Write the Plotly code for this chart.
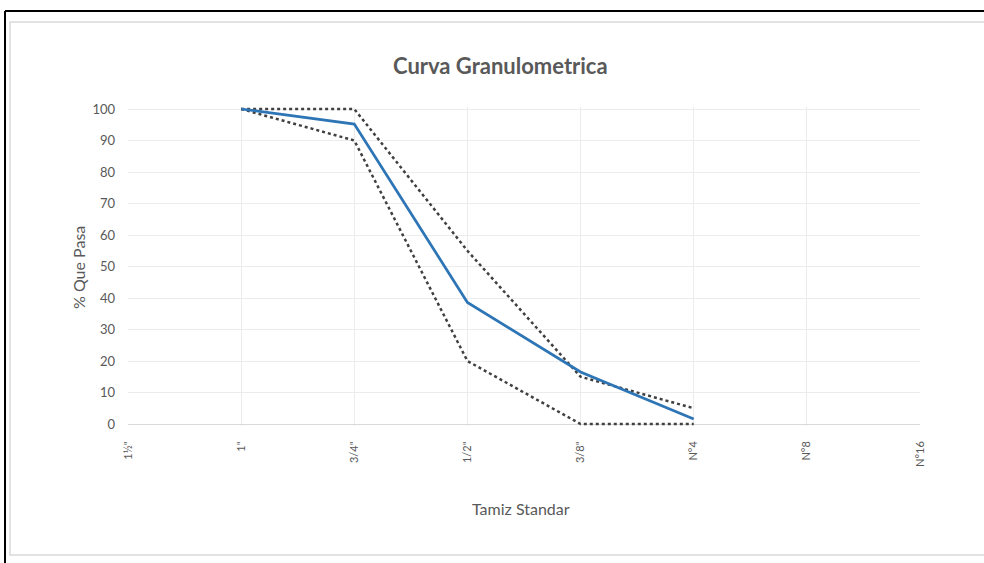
import plotly.graph_objects as go

categories = ['1½"', '1"', '3/4"', '1/2"', '3/8"', 'N°4', 'N°8', 'N°16']
sieve_x = ['1"', '3/4"', '1/2"', '3/8"', 'N°4']
pasa = [100, 95.2, 38.6, 16.5, 1.6]
limite_sup = [100, 100, 55, 15, 5]
limite_inf = [100, 90, 20, 0, 0]

W, H = 984, 563
# plot area in screen pixels: left 128, right 920, top 107, bottom 426
# (2px extra above/below so lines at 0 and 100 are not clipped)
L, R, T, B = 128, W - 920, 107, H - 426
PW, PH = W - L - R, H - T - B
PAD_UNITS = 2 / 3.15


def px(x):
    return (x - L) / PW


def py(y):
    return (H - B - y) / PH


FONT = "Lato, Open Sans, sans-serif"
GRAY = "#595959"

fig = go.Figure()
fig.add_trace(go.Scatter(x=categories, y=[None] * len(categories), mode="lines",
                         showlegend=False, hoverinfo="skip"))
fig.add_trace(go.Scatter(x=sieve_x, y=limite_sup, mode="lines",
                         line=dict(color="#404040", width=2.5, dash="dot"),
                         showlegend=False))
fig.add_trace(go.Scatter(x=sieve_x, y=limite_inf, mode="lines",
                         line=dict(color="#404040", width=2.5, dash="dot"),
                         showlegend=False))
fig.add_trace(go.Scatter(x=sieve_x, y=pasa, mode="lines",
                         line=dict(color="#2E75B6", width=2.75),
                         showlegend=False))

fig.update_xaxes(type="category", categoryorder="array", categoryarray=categories,
                 range=[0, 7], tickangle=-90, showgrid=True, gridcolor="#ececec",
                 gridwidth=1, showline=False,
                 ticks="", ticklabelstandoff=12,
                 tickfont=dict(family=FONT, size=11, color=GRAY),
                 zeroline=False, fixedrange=True)
fig.update_yaxes(range=[-PAD_UNITS, 100 + PAD_UNITS], tickvals=list(range(0, 101, 10)),
                 showgrid=True, gridcolor="#ececec",
                 gridwidth=1, showline=False, zeroline=True, zerolinecolor="#d9d9d9",
                 zerolinewidth=1, ticks="",
                 ticklabelstandoff=12,
                 tickfont=dict(family=FONT, size=13, color=GRAY),
                 fixedrange=True)

shapes = [
    dict(type="rect", xref="paper", yref="paper", x0=px(10), x1=px(1010), y0=py(555), y1=py(22),
         line=dict(color="#d9d9d9", width=1.5), fillcolor="rgba(0,0,0,0)", layer="below"),
    dict(type="line", xref="paper", yref="paper", x0=px(5), x1=px(1010), y0=py(11), y1=py(11),
         line=dict(color="#000000", width=2)),
    dict(type="line", xref="paper", yref="paper", x0=px(5), x1=px(5), y0=py(11), y1=py(600),
         line=dict(color="#000000", width=2)),
]

annotations = [
    dict(text="<b>Curva Granulometrica</b>", xref="paper", yref="paper",
         x=px(500), y=py(65), showarrow=False, xanchor="center", yanchor="middle",
         font=dict(family=FONT, size=22, color=GRAY)),
    dict(text="Tamiz Standar", xref="paper", yref="paper",
         x=px(521), y=py(508), showarrow=False, xanchor="center", yanchor="middle",
         font=dict(family=FONT, size=16, color=GRAY)),
    dict(text="% Que Pasa", xref="paper", yref="paper", textangle=-90,
         x=px(78), y=py(268), showarrow=False, xanchor="center", yanchor="middle",
         font=dict(family=FONT, size=16, color=GRAY)),
]

fig.update_layout(
    width=W, height=H,
    margin=dict(l=L, r=R, t=T, b=B, pad=0),
    paper_bgcolor="white", plot_bgcolor="white",
    shapes=shapes,
    annotations=annotations,
)

fig.write_html("out.html", config={"displayModeBar": False},
               post_script="document.body.style.margin='0';")
